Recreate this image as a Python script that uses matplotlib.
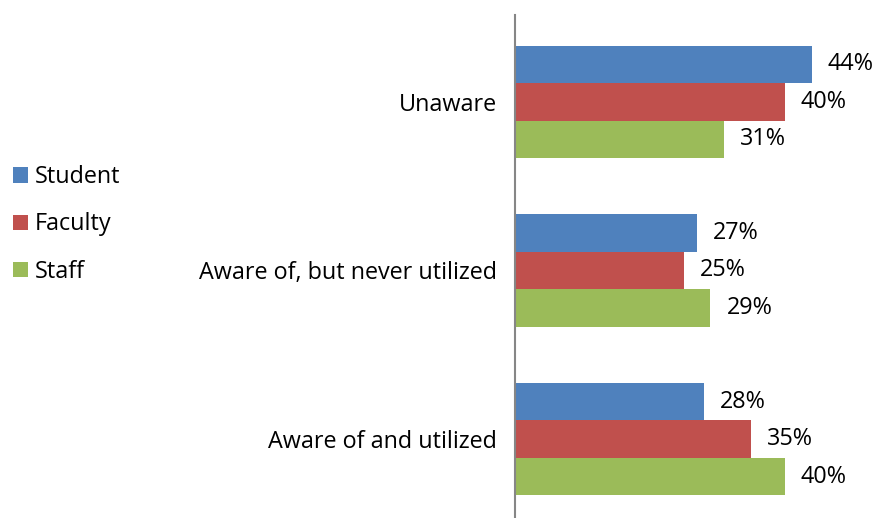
import matplotlib
matplotlib.use("Agg")
import matplotlib.pyplot as plt
from matplotlib.patches import Patch

categories = ["Unaware", "Aware of, but never utilized", "Aware of and utilized"]
series_names = ["Student", "Faculty", "Staff"]
student = [44, 27, 28]
faculty = [40, 25, 35]
staff = [31, 29, 40]
colors = ["#4F81BD", "#C0504D", "#9BBB59"]

plt.rcParams['font.family'] = ['Open Sans', 'DejaVu Sans']
FS = 16.8

fig = plt.figure(figsize=(8.77, 5.18), dpi=100)
ax = fig.add_axes([515/877, 0.0, 337/877, 1 - 15/518])

values = [student, faculty, staff]
bh = 0.222
for i, (name, vals, c) in enumerate(zip(series_names, values, colors)):
    ys = [k + (i - 1) * bh for k in range(len(categories))]
    ax.barh(ys, vals, height=bh, color=c, label=name, edgecolor='none')
    for y, v in zip(ys, vals):
        ax.text(v + 2.4, y, f"{v}%", va='center', ha='left', fontsize=FS)

ax.set_xlim(0, 50)
ax.set_ylim(2 + 79/169, -87/169)
ax.set_yticks(range(len(categories)))
ax.set_yticklabels(categories, fontsize=FS)
ax.tick_params(axis='y', length=0, pad=13)
ax.set_xticks([])
for s in ['top', 'right', 'bottom']:
    ax.spines[s].set_visible(False)
ax.spines['left'].set_color('#868686')
ax.spines['left'].set_linewidth(1.5)

handles = [Patch(facecolor=c, edgecolor='none') for c in colors]
fig.legend(handles, series_names, loc='center left', bbox_to_anchor=(13/877, 1 - 224.5/518),
           frameon=False, fontsize=FS, handlelength=0.64, handleheight=0.64,
           handletextpad=0.3, labelspacing=1.0, borderpad=0, borderaxespad=0)

fig.savefig("out.png", dpi=100)
